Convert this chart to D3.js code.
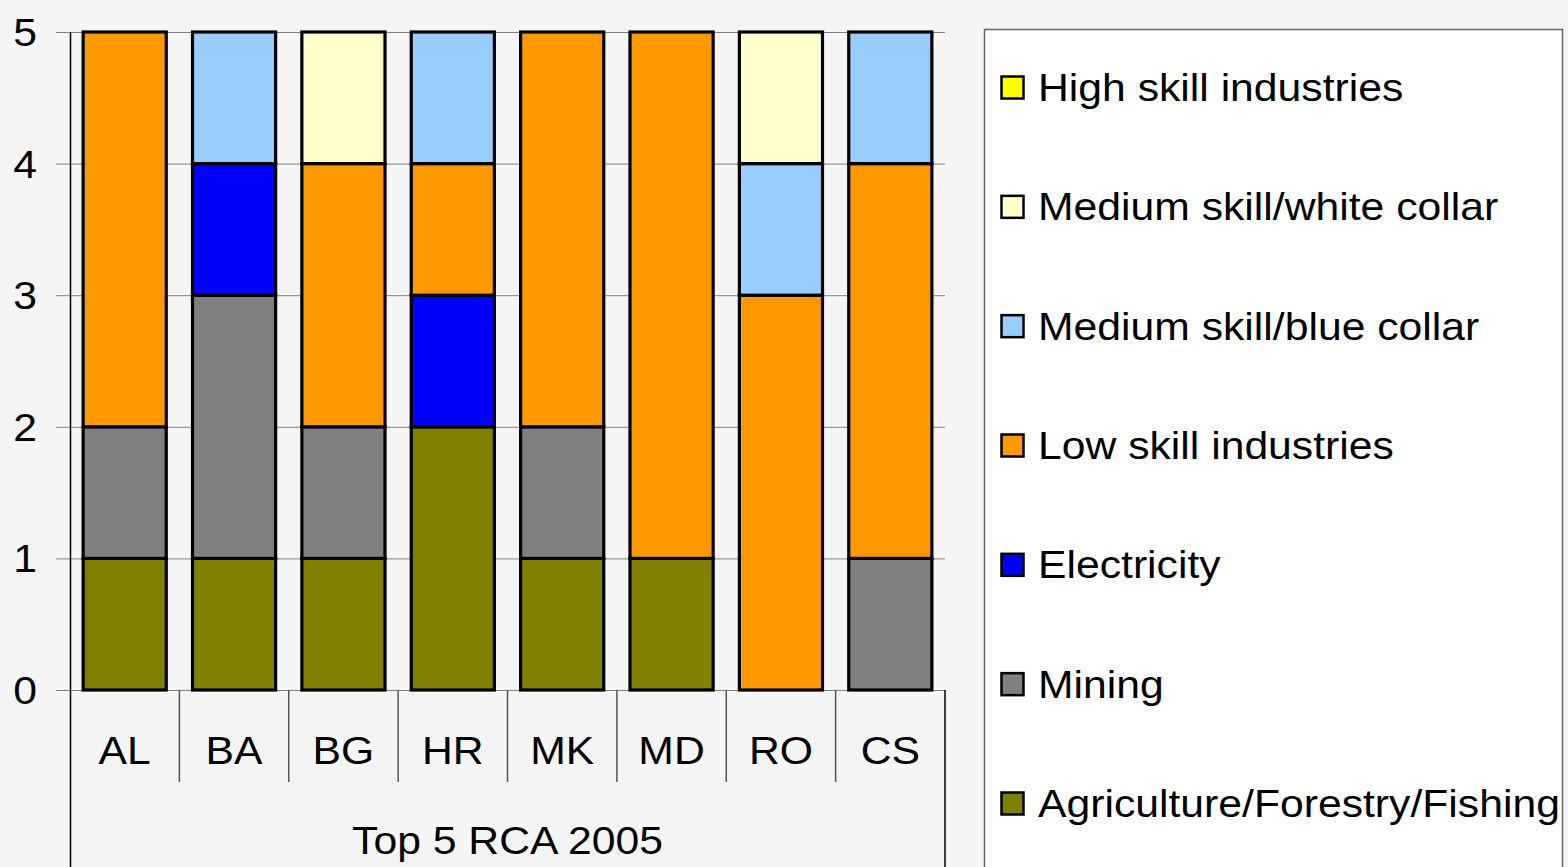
<!DOCTYPE html>
<html>
<head>
<meta charset="utf-8">
<script src="https://cdn.jsdelivr.net/npm/d3@7"></script>
<style>
  html, body { margin: 0; padding: 0; background: #f5f5f5; }
  svg { display: block; font-family: "Liberation Sans", Arial, sans-serif; }
</style>
</head>
<body>
<svg id="chart" width="1568" height="867"></svg>
<script>
var countries = ["AL", "BA", "BG", "HR", "MK", "MD", "RO", "CS"];
var groupLabel = "Top 5 RCA 2005";

// series, bottom to top of the stack
var seriesNames = ["Agriculture/Forestry/Fishing", "Mining", "Electricity",
  "Low skill industries", "Medium skill/blue collar", "Medium skill/white collar",
  "High skill industries"];
var seriesColors = ["#808000", "#808080", "#0000ff", "#ff9900", "#99ccff", "#ffffcc", "#ffff00"];

var agriculture = [1, 1, 1, 2, 1, 1, 0, 0];
var mining      = [1, 2, 1, 0, 1, 0, 0, 1];
var electricity = [0, 1, 0, 1, 0, 0, 0, 0];
var lowSkill    = [3, 0, 2, 1, 3, 4, 3, 3];
var blueCollar  = [0, 1, 0, 1, 0, 0, 1, 1];
var whiteCollar = [0, 0, 1, 0, 0, 0, 1, 0];
var highSkill   = [0, 0, 0, 0, 0, 0, 0, 0];

var yTicks = [0, 1, 2, 3, 4, 5];

var seriesValues = [agriculture, mining, electricity, lowSkill, blueCollar, whiteCollar, highSkill];

var rows = countries.map(function(c, i) {
  var r = {country: c};
  seriesNames.forEach(function(s, j) { r[s] = seriesValues[j][i]; });
  return r;
});

var svg = d3.select("#chart"),
    plotLeft = 70, plotRight = 945, plotTop = 32, plotBottom = 690,
    fontSize = 39, stretch = 1.095;

// the original text is drawn a little wide
function place(sel, fx, fy) {
  sel.attr("transform", function(d, i) {
    return "translate(" + fx(d, i) + "," + fy(d, i) + ") scale(" + stretch + ",1)";
  }).attr("font-size", fontSize).attr("dy", "0.36em");
}

var x = d3.scaleBand().domain(countries).range([plotLeft, plotRight])
  .paddingInner(0.24).paddingOuter(0.12);
var y = d3.scaleLinear().domain([0, 5]).range([plotBottom, plotTop]);

var stack = d3.stack().keys(seriesNames)(rows);
var color = d3.scaleOrdinal().domain(seriesNames).range(seriesColors);

// gridlines
svg.append("g").selectAll("line").data(yTicks).join("line")
  .attr("x1", plotLeft - 14).attr("x2", plotRight)
  .attr("y1", function(d) { return y(d) + 0.5; })
  .attr("y2", function(d) { return y(d) + 0.5; })
  .attr("stroke", "#808080").attr("stroke-width", 1);

// bars
svg.append("g").selectAll("g").data(stack).join("g")
  .attr("fill", function(d) { return color(d.key); })
  .selectAll("rect").data(function(d) { return d.filter(function(p) { return p[1] > p[0]; }); })
  .join("rect")
    .attr("x", function(d) { return x(d.data.country); })
    .attr("width", x.bandwidth())
    .attr("y", function(d) { return y(d[1]); })
    .attr("height", function(d) { return y(d[0]) - y(d[1]); })
    .attr("stroke", "#000").attr("stroke-width", 3.2);

// y axis labels
svg.append("g").selectAll("text").data(yTicks).join("text")
  .attr("text-anchor", "end").text(function(d) { return d; })
  .call(place, function() { return 37; }, function(d) { return y(d); });

// axis lines
svg.append("line").attr("x1", plotLeft + 0.5).attr("x2", plotLeft + 0.5)
  .attr("y1", plotTop).attr("y2", 867).attr("stroke", "#000").attr("stroke-width", 1.5);
svg.append("line").attr("x1", plotRight).attr("x2", plotRight)
  .attr("y1", plotBottom).attr("y2", 867).attr("stroke", "#000").attr("stroke-width", 1.5);

// category dividers
var dividers = d3.range(1, countries.length).map(function(i) { return plotLeft + i * x.step(); });
svg.append("g").selectAll("line").data(dividers).join("line")
  .attr("x1", function(d) { return d; }).attr("x2", function(d) { return d; })
  .attr("y1", plotBottom).attr("y2", 782)
  .attr("stroke", "#555").attr("stroke-width", 1.5);

// category labels
svg.append("g").selectAll("text").data(countries).join("text")
  .attr("text-anchor", "middle").text(function(d) { return d; })
  .call(place, function(d) { return x(d) + x.bandwidth() / 2; }, function() { return 750; });

svg.append("text").datum(groupLabel)
  .attr("text-anchor", "middle").text(groupLabel)
  .call(place, function() { return (plotLeft + plotRight) / 2; }, function() { return 840; });

// legend
var legend = svg.append("g");
legend.append("rect").attr("x", 984.5).attr("y", 29.5).attr("width", 578).attr("height", 850)
  .attr("fill", "#fff").attr("stroke", "#666").attr("stroke-width", 1.5);

var legendOrder = seriesNames.slice().reverse();
var ly = d3.scalePoint().domain(legendOrder).range([87, 803]);
var item = legend.selectAll("g.item").data(legendOrder).join("g")
  .attr("class", "item")
  .attr("transform", function(d) { return "translate(1000," + ly(d) + ")"; });
item.append("rect").attr("x", 1.5).attr("y", -10.5).attr("width", 22).attr("height", 22)
  .attr("fill", function(d) { return color(d); })
  .attr("stroke", "#000").attr("stroke-width", 2.5);
item.append("text").text(function(d) { return d; })
  .call(place, function() { return 38; }, function() { return 0; });
</script>
</body>
</html>
